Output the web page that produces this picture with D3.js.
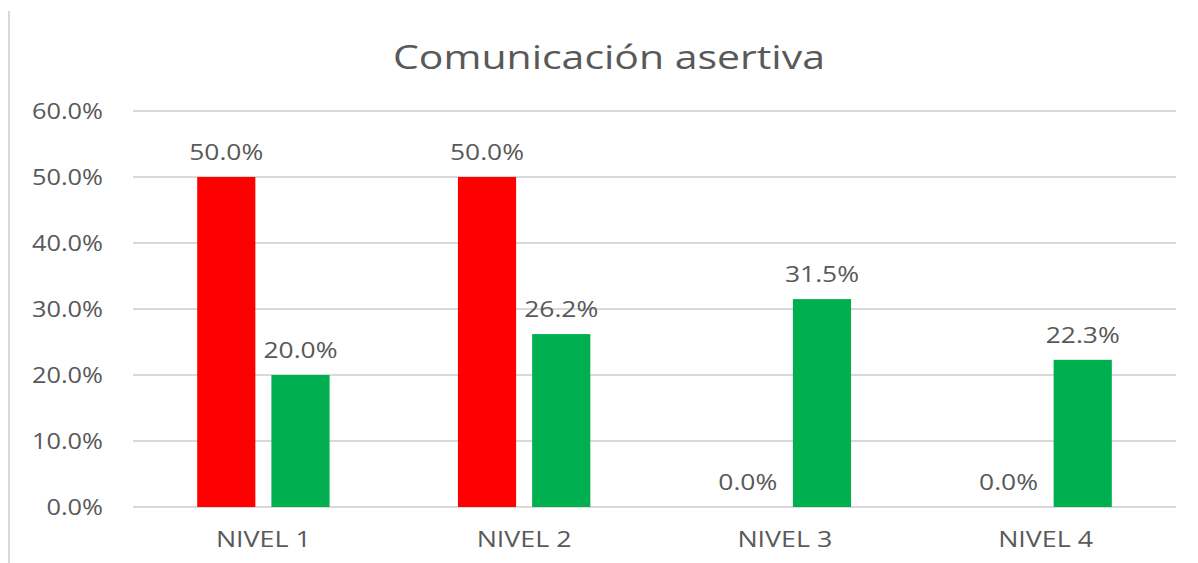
<!DOCTYPE html>
<html lang="es">
<head>
<meta charset="UTF-8">
<title>Comunicación asertiva</title>
<script src="https://d3js.org/d3.v7.min.js"></script>
<style>
  body { margin: 0; background: #fff; }
  text { font-family: "Open Sans", sans-serif; fill: #595959; }
</style>
</head>
<body>
<div id="chart"></div>
<script>
// data
var categories = ["NIVEL 1", "NIVEL 2", "NIVEL 3", "NIVEL 4"];
var series = ["rojo", "verde"];
var rojo = [50.0, 50.0, 0.0, 0.0];
var verde = [20.0, 26.2, 31.5, 22.3];
var yTicks = [0, 10, 20, 30, 40, 50, 60];
var colors = ["#FF0000", "#00B050"];

var W = 1198, H = 563;
var margin = {top: 111, right: 22, bottom: 56, left: 133};

var svg = d3.select("#chart").append("svg")
  .attr("width", W).attr("height", H);

// frame line on the left
svg.append("line")
  .attr("x1", 9).attr("x2", 9).attr("y1", 11).attr("y2", H)
  .attr("stroke", "#d9d9d9").attr("stroke-width", 2);

var x0 = d3.scaleBand()
  .domain(categories)
  .range([margin.left, W - margin.right]);

var x1 = d3.scaleBand()
  .domain(series)
  .range([0, x0.bandwidth()])
  .paddingInner(0.216)
  .paddingOuter(0.865);

var y = d3.scaleLinear()
  .domain([0, 60])
  .range([H - margin.bottom, margin.top]);

// the original text looks stretched sideways, so widen it a bit
function widen(k) {
  return function(sel) {
    sel.each(function() {
      var w = this.getComputedTextLength();
      d3.select(this).attr("textLength", w * k).attr("lengthAdjust", "spacingAndGlyphs");
    });
  };
}

// gridlines
svg.append("g")
  .selectAll("line")
  .data(yTicks)
  .join("line")
    .attr("x1", margin.left).attr("x2", W - margin.right)
    .attr("y1", function(d) { return y(d); })
    .attr("y2", function(d) { return y(d); })
    .attr("stroke", "#d9d9d9").attr("stroke-width", 2);

// y axis labels
svg.append("g")
  .selectAll("text")
  .data(yTicks)
  .join("text")
    .attr("x", 103)
    .attr("y", function(d) { return y(d) + 8; })
    .attr("text-anchor", "end")
    .style("font-size", "22px")
    .text(function(d) { return d.toFixed(1) + "%"; })
    .call(widen(1.15));

// bars
var rows = categories.map(function(c, i) {
  return {cat: c, vals: [rojo[i], verde[i]]};
});

var groups = svg.append("g")
  .selectAll("g")
  .data(rows)
  .join("g")
    .attr("transform", function(d) { return "translate(" + x0(d.cat) + ",0)"; });

groups.selectAll("rect")
  .data(function(d) { return d.vals.map(function(v, j) { return {s: series[j], v: v, j: j}; }); })
  .join("rect")
    .attr("x", function(d) { return x1(d.s); })
    .attr("width", x1.bandwidth())
    .attr("y", function(d) { return y(d.v); })
    .attr("height", function(d) { return y(0) - y(d.v); })
    .attr("fill", function(d) { return colors[d.j]; });

// value labels
groups.selectAll("text")
  .data(function(d) { return d.vals.map(function(v, j) { return {s: series[j], v: v}; }); })
  .join("text")
    .attr("x", function(d) { return x1(d.s) + x1.bandwidth() / 2; })
    .attr("y", function(d) { return y(d.v) - 17; })
    .attr("text-anchor", "middle")
    .style("font-size", "22px")
    .text(function(d) { return d.v.toFixed(1) + "%"; })
    .call(widen(1.2));

// category labels
svg.append("g")
  .selectAll("text")
  .data(categories)
  .join("text")
    .attr("x", function(d) { return x0(d) + x0.bandwidth() / 2; })
    .attr("y", 547)
    .attr("text-anchor", "middle")
    .style("font-size", "22px")
    .text(function(d) { return d; })
    .call(widen(1.22));

// title
svg.append("text")
  .attr("x", 609)
  .attr("y", 69)
  .attr("text-anchor", "middle")
  .style("font-size", "32px")
  .text("Comunicación asertiva")
  .call(widen(1.28));
</script>
</body>
</html>
